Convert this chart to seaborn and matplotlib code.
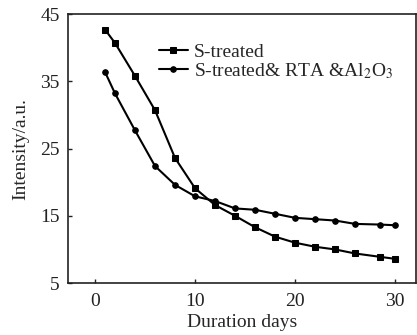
import matplotlib
matplotlib.use("Agg")
import matplotlib.pyplot as plt
import seaborn as sns
import pandas as pd

days = [1, 2, 4, 6, 8, 10, 12, 14, 16, 18, 20, 22, 24, 26, 28.5, 30]
s_treated = [42.7, 40.7, 35.8, 30.7, 23.6, 19.1, 16.6, 15.0, 13.3, 11.9, 11.0, 10.4, 10.0, 9.4, 8.9, 8.6]
s_rta_al2o3 = [36.4, 33.2, 27.7, 22.4, 19.6, 17.9, 17.2, 16.1, 15.9, 15.3, 14.7, 14.5, 14.3, 13.8, 13.7, 13.6]
labels = ["S-treated", "S-treated& RTA &Al$_2$O$_3$"]
xticks = [0, 10, 20, 30]
yticks = [5, 15, 25, 35, 45]

sns.set_style("ticks")
plt.rcParams['font.family'] = ['Liberation Serif', 'DejaVu Serif']
plt.rcParams['mathtext.fontset'] = 'stix'

fig = plt.figure(figsize=(4.17, 3.35), dpi=100)
ax = fig.add_axes([0.163, 0.155, 0.835, 0.803])

df1 = pd.DataFrame({"x": days, "y": s_treated})
df2 = pd.DataFrame({"x": days, "y": s_rta_al2o3})
sns.lineplot(data=df1, x="x", y="y", ax=ax, color="black", marker="s", markersize=4,
             linewidth=1.5, label=labels[0], markeredgecolor="black")
sns.lineplot(data=df2, x="x", y="y", ax=ax, color="black", marker="o", markersize=4,
             linewidth=1.5, label=labels[1], markeredgecolor="black")

ax.set_xlim(-2.7, 32.1)
ax.set_ylim(5, 45)
ax.set_xticks(xticks)
ax.set_yticks(yticks)
ax.tick_params(direction="in", length=3, width=1, labelsize=14, colors="#222222", pad=6)
ax.tick_params(axis="x", pad=7)
ax.set_xlabel("Duration days", fontsize=14, labelpad=3)
ax.set_ylabel("Intensity/a.u.", fontsize=14, labelpad=8)
for sp in ax.spines.values():
    sp.set_linewidth(1.2)
    sp.set_color("#222222")

leg = ax.legend(loc="upper left", bbox_to_anchor=(0.26, 0.89), frameon=False,
                fontsize=14, handlelength=1.5, handletextpad=0.3, labelspacing=0.0,
                borderaxespad=0, borderpad=0)

fig.savefig("out.png", dpi=100)
